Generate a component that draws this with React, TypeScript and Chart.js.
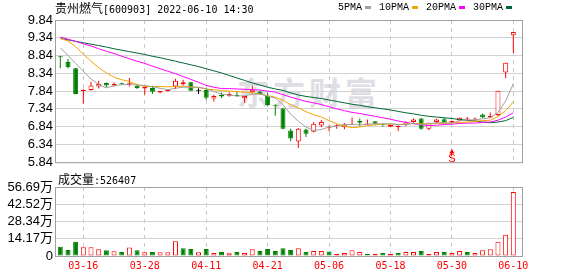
import React, { useEffect, useRef } from 'react';
import { Chart, registerables } from 'chart.js';

Chart.register(...registerables);

// ---------- data ----------
const dates = [
  '03-11', '03-14', '03-15', '03-16', '03-17', '03-18', '03-21', '03-22', '03-23', '03-24',
  '03-25', '03-28', '03-29', '03-30', '03-31', '04-01', '04-06', '04-07', '04-08', '04-11',
  '04-12', '04-13', '04-14', '04-15', '04-18', '04-19', '04-20', '04-21', '04-22', '04-25',
  '04-26', '04-27', '04-28', '04-29', '05-05', '05-06', '05-09', '05-10', '05-11', '05-12',
  '05-13', '05-16', '05-17', '05-18', '05-19', '05-20', '05-23', '05-24', '05-25', '05-26',
  '05-27', '05-30', '05-31', '06-01', '06-02', '06-06', '06-07', '06-08', '06-09', '06-10',
];

const opens = [
  8.80, 8.66, 8.48, 7.84, 7.87, 7.97, 8.07, 8.00, 8.06, 8.01,
  7.99, 7.91, 7.93, 7.80, 7.84, 7.97, 8.03, 8.09, 7.85, 7.87,
  7.63, 7.74, 7.71, 7.73, 7.64, 7.81, 7.83, 7.70, 7.44, 7.35,
  6.73, 6.42, 6.76, 6.70, 6.87, 6.81, 6.85, 6.82, 6.89, 7.00,
  6.90, 6.99, 6.92, 6.84, 6.82, 6.88, 6.97, 7.07, 6.78, 6.97,
  7.05, 6.95, 7.01, 7.04, 7.04, 7.18, 7.10, 7.17, 8.36, 9.41,
];
const highs = [
  8.83, 8.74, 8.49, 7.90, 8.10, 8.13, 8.08, 8.08, 8.08, 8.21,
  8.05, 7.96, 7.99, 7.84, 7.88, 8.19, 8.16, 8.10, 7.92, 7.93,
  7.74, 7.80, 7.81, 7.83, 7.70, 8.00, 7.86, 7.80, 7.46, 7.37,
  6.78, 6.80, 6.78, 6.97, 7.03, 6.87, 6.91, 6.94, 7.10, 7.07,
  7.04, 6.99, 6.93, 6.89, 6.88, 6.99, 7.07, 7.09, 6.95, 7.06,
  7.08, 7.01, 7.10, 7.11, 7.10, 7.21, 7.24, 7.85, 8.64, 9.50,
];
const lows = [
  8.48, 8.48, 7.75, 7.49, 7.85, 7.91, 7.95, 7.97, 8.02, 7.97,
  7.90, 7.74, 7.76, 7.78, 7.83, 7.90, 8.00, 7.84, 7.76, 7.60,
  7.55, 7.64, 7.68, 7.68, 7.51, 7.78, 7.74, 7.41, 7.15, 6.77,
  6.43, 6.24, 6.55, 6.68, 6.82, 6.71, 6.78, 6.77, 6.89, 6.86,
  6.89, 6.89, 6.84, 6.83, 6.72, 6.86, 6.93, 6.75, 6.74, 6.94,
  6.94, 6.93, 6.99, 7.00, 7.00, 7.09, 7.08, 7.14, 8.20, 8.91,
];
const closes = [
  8.79, 8.51, 7.76, 7.86, 8.00, 8.04, 8.00, 8.04, 8.03, 8.06,
  7.93, 7.96, 7.82, 7.84, 7.86, 8.13, 8.09, 7.85, 7.85, 7.65,
  7.70, 7.69, 7.76, 7.70, 7.70, 7.88, 7.76, 7.45, 7.43, 6.78,
  6.51, 6.78, 6.64, 6.92, 6.97, 6.84, 6.86, 6.90, 6.92, 6.95,
  6.92, 6.92, 6.89, 6.89, 6.86, 6.96, 7.04, 6.78, 6.95, 7.04,
  6.95, 7.00, 7.09, 7.05, 7.05, 7.10, 7.14, 7.85, 8.64, 9.50,
];
const prevClose = 8.86;

const ma5 = [
  9.06, 8.84, 8.62, 8.40, 8.18, 8.03, 7.93, 7.99, 8.02, 8.03,
  8.01, 8.00, 7.96, 7.92, 7.88, 7.92, 7.95, 7.95, 7.95, 7.91,
  7.83, 7.75, 7.73, 7.70, 7.71, 7.75, 7.76, 7.70, 7.64, 7.46,
  7.19, 6.99, 6.83, 6.73, 6.76, 6.83, 6.85, 6.90, 6.90, 6.89,
  6.91, 6.92, 6.92, 6.92, 6.90, 6.90, 6.93, 6.90, 6.92, 6.95,
  6.95, 6.94, 7.01, 7.03, 7.03, 7.06, 7.09, 7.24, 7.56, 8.05,
];
const ma10 = [
  9.32, 9.25, 9.09, 8.88, 8.68, 8.50, 8.35, 8.23, 8.16, 8.11,
  8.02, 7.97, 7.97, 7.97, 7.96, 7.97, 7.98, 7.96, 7.94, 7.90,
  7.88, 7.85, 7.84, 7.83, 7.81, 7.79, 7.76, 7.71, 7.67, 7.58,
  7.46, 7.37, 7.26, 7.18, 7.11, 7.01, 6.92, 6.86, 6.81, 6.83,
  6.87, 6.89, 6.91, 6.91, 6.90, 6.91, 6.93, 6.92, 6.92, 6.93,
  6.93, 6.94, 6.96, 6.97, 6.99, 7.01, 7.02, 7.12, 7.29, 7.54,
];
const ma20 = [
  9.36, 9.30, 9.24, 9.17, 9.11, 9.03, 8.96, 8.90, 8.82, 8.75,
  8.68, 8.62, 8.54, 8.47, 8.40, 8.33, 8.25, 8.17, 8.09, 8.00,
  7.95, 7.91, 7.91, 7.90, 7.89, 7.88, 7.87, 7.84, 7.81, 7.74,
  7.67, 7.61, 7.55, 7.51, 7.46, 7.40, 7.34, 7.29, 7.24, 7.21,
  7.17, 7.13, 7.09, 7.05, 7.00, 6.96, 6.92, 6.89, 6.87, 6.88,
  6.90, 6.91, 6.93, 6.94, 6.94, 6.96, 6.97, 7.02, 7.11, 7.23,
];
const ma30 = [
  9.32, 9.28, 9.24, 9.20, 9.16, 9.12, 9.08, 9.03, 8.99, 8.95,
  8.91, 8.87, 8.82, 8.78, 8.73, 8.68, 8.63, 8.58, 8.53, 8.47,
  8.41, 8.35, 8.28, 8.21, 8.14, 8.07, 8.01, 7.95, 7.90, 7.86,
  7.79, 7.73, 7.69, 7.66, 7.63, 7.59, 7.55, 7.51, 7.47, 7.44,
  7.40, 7.37, 7.34, 7.31, 7.27, 7.23, 7.20, 7.16, 7.13, 7.11,
  7.09, 7.07, 7.04, 7.02, 7.00, 6.97, 6.95, 6.97, 7.01, 7.10,
];

const volumes = [
  75000, 50000, 117000, 72000, 72000, 56000, 47000, 39000, 33000, 70000,
  47000, 31000, 33000, 31000, 31000, 122000, 64000, 58000, 31000, 58000,
  25000, 33000, 22000, 33000, 25000, 56000, 42000, 58000, 42000, 64000,
  50000, 64000, 33000, 42000, 42000, 36000, 17000, 25000, 47000, 33000,
  17000, 17000, 25000, 17000, 25000, 33000, 33000, 42000, 17000, 33000,
  33000, 25000, 42000, 33000, 25000, 47000, 56000, 117000, 175000, 526407,
];

const priceTicks = [5.84, 6.34, 6.84, 7.34, 7.84, 8.34, 8.84, 9.34, 9.84];
const volumeTicks = [0, 141725, 283450, 425175, 566900];
const volumeTickLabels = ['0', '14.17万', '28.34万', '42.52万', '56.69万'];
const dateTickLabels = ['03-16', '03-28', '04-11', '04-21', '05-06', '05-18', '05-30', '06-10'];
const maNames = ['5PMA', '10PMA', '20PMA', '30PMA'];
const exRightsDate = '05-30';
const exRightsMarkPrice = 6.13;
const exRightsText = 'S';
const stockName = '贵州燃气';
const stockCode = '[600903]';
const quoteTime = '2022-06-10 14:30';
const volumeTitle = '成交量';
const watermarkText = '东方财富';

// ---------- style ----------
const UP = '#ff0000';
const DOWN = '#008000';
const FLAT = '#000000';
const maColors = ['#a0a0a0', '#f5a300', '#ff00ff', '#006633'];
const GRID = '#d2d2d2';
const VGRID = '#c8c8c8';
const FRAME = '#a0a0a0';
const FONT = '"Liberation Sans", "Noto Sans CJK SC", sans-serif';
const MONO = '"DejaVu Sans Mono", "Noto Sans CJK SC", monospace';
const CJK = '"Noto Sans CJK SC", sans-serif';
const X_MIN = -0.69;
const X_MAX = 60.13;

const prevOf = (i: number) => (i === 0 ? prevClose : closes[i - 1]);
const candleColor = (i: number) => {
  const o = opens[i];
  const c = closes[i];
  if (c > o) return UP;
  if (c < o) return DOWN;
  const p = prevOf(i);
  return c > p ? UP : c < p ? DOWN : FLAT;
};
const volColor = (i: number) => (closes[i] >= prevOf(i) ? UP : DOWN);
const tickIdx = dateTickLabels.map((l) => dates.indexOf(l));

const framePlugin = {
  id: 'frame',
  afterDraw(chart: any) {
    const { ctx, chartArea: a } = chart;
    ctx.save();
    ctx.strokeStyle = FRAME;
    ctx.lineWidth = 1;
    ctx.strokeRect(a.left + 0.5, a.top + 0.5, a.right - a.left, a.bottom - a.top);
    ctx.restore();
  },
};

const exRightsPlugin = {
  id: 'exRightsLabel',
  afterDatasetsDraw(chart: any) {
    const di = chart.data.datasets.findIndex((d: any) => d.label === 'exRights');
    if (di < 0) return;
    const pt = chart.getDatasetMeta(di).data[0];
    if (!pt) return;
    const { ctx } = chart;
    ctx.save();
    ctx.fillStyle = UP;
    ctx.font = '11px ' + FONT;
    ctx.textAlign = 'center';
    ctx.textBaseline = 'top';
    ctx.fillText(exRightsText, pt.x, pt.y + 2);
    ctx.fillRect(Math.floor(pt.x), pt.y, 1, 4);
    ctx.restore();
  },
};

function xAxis(showLabels: boolean): any {
  return {
    type: 'linear',
    min: X_MIN,
    max: X_MAX,
    offset: false,
    afterBuildTicks: (s: any) => {
      s.ticks = tickIdx.map((v) => ({ value: v }));
    },
    afterFit: (s: any) => {
      s.height = showLabels ? 20 : 0;
    },
    grid: { display: true, color: VGRID, lineWidth: 1, drawTicks: false, offset: false },
    border: { display: false, dash: [4, 4] },
    ticks: {
      display: showLabels,
      autoSkip: false,
      maxRotation: 0,
      minRotation: 0,
      padding: 4,
      color: UP,
      font: { family: MONO, size: 10 },
      callback: (v: any) => dates[v] ?? '',
    },
  };
}

function yAxis(min: number, max: number, values: number[], fmt: (v: number) => string): any {
  return {
    type: 'linear',
    position: 'left',
    min,
    max,
    afterBuildTicks: (s: any) => {
      s.ticks = values.map((v) => ({ value: v }));
    },
    afterFit: (s: any) => {
      s.width = 55;
    },
    grid: { color: GRID, drawTicks: false },
    border: { display: false },
    ticks: {
      autoSkip: false,
      padding: 2,
      color: '#000000',
      font: { family: FONT, size: 13 },
      callback: (v: any) => fmt(Number(v)),
    },
  };
}

export default function App() {
  const priceRef = useRef<HTMLCanvasElement | null>(null);
  const volRef = useRef<HTMLCanvasElement | null>(null);

  useEffect(() => {
    const idx = dates.map((_, i) => i);
    const maSeries = [ma5, ma10, ma20, ma30];

    const priceChart = new Chart(priceRef.current as HTMLCanvasElement, {
      type: 'bar',
      data: {
        datasets: [
          ...maSeries.map((s, k) => ({
            type: 'line',
            label: maNames[k],
            data: s.map((v, i) => ({ x: i, y: v })),
            borderColor: maColors[k],
            borderWidth: 1,
            pointRadius: 0,
            tension: 0,
            fill: false,
            order: 0,
          })),
          {
            type: 'line',
            label: 'exRights',
            data: [{ x: dates.indexOf(exRightsDate), y: exRightsMarkPrice }],
            showLine: false,
            pointStyle: 'triangle',
            pointRadius: 3,
            backgroundColor: UP,
            borderColor: UP,
            borderWidth: 0,
            order: 0,
          },
          {
            type: 'bar',
            label: 'body',
            data: idx.map((i) => ({ x: i, y: [opens[i], closes[i]] })),
            backgroundColor: idx.map((i) => (closes[i] > opens[i] ? '#ffffff' : candleColor(i))),
            borderColor: idx.map((i) => candleColor(i)),
            borderWidth: 1,
            borderSkipped: false,
            barThickness: 5,
            grouped: false,
            minBarLength: 1,
            inflateAmount: 0,
            order: 1,
          },
          {
            type: 'bar',
            label: 'wick',
            data: idx.map((i) => ({ x: i, y: [lows[i], highs[i]] })),
            backgroundColor: idx.map((i) => candleColor(i)),
            borderWidth: 0,
            barThickness: 1,
            grouped: false,
            inflateAmount: 0,
            order: 2,
          },
        ] as any,
      },
      options: {
        animation: false,
        responsive: false,
        devicePixelRatio: 1,
        events: [],
        layout: { padding: { left: 0, top: 20, right: 56, bottom: 7 } },
        plugins: { legend: { display: false }, tooltip: { enabled: false }, title: { display: false } },
        scales: {
          x: xAxis(false),
          y: yAxis(priceTicks[0], priceTicks[priceTicks.length - 1], priceTicks, (v) => v.toFixed(2)),
        },
      } as any,
      plugins: [framePlugin, exRightsPlugin],
    });

    const volChart = new Chart(volRef.current as HTMLCanvasElement, {
      type: 'bar',
      data: {
        datasets: [
          {
            label: volumeTitle,
            data: idx.map((i) => ({ x: i, y: volumes[i] })),
            backgroundColor: idx.map((i) => (volColor(i) === UP ? '#ffffff' : DOWN)),
            borderColor: idx.map((i) => volColor(i)),
            borderWidth: 1,
            borderSkipped: false,
            barThickness: 5,
            grouped: false,
            inflateAmount: 0,
          },
        ] as any,
      },
      options: {
        animation: false,
        responsive: false,
        devicePixelRatio: 1,
        events: [],
        layout: { padding: { left: 0, top: 15, right: 56, bottom: 0 } },
        plugins: { legend: { display: false }, tooltip: { enabled: false } },
        scales: {
          x: xAxis(true),
          y: yAxis(0, volumeTicks[volumeTicks.length - 1], volumeTicks, (v) => volumeTickLabels[volumeTicks.indexOf(v)] ?? ''),
        },
      } as any,
      plugins: [framePlugin],
    });

    return () => {
      priceChart.destroy();
      volChart.destroy();
    };
  }, []);

  const legendItem = (name: string, color: string) => (
    <div key={name} style={{ display: 'flex', alignItems: 'center', marginRight: 8 }}>
      <span>{name}</span>
      <span style={{ display: 'inline-block', width: 6, height: 3, background: color, marginLeft: 3 }} />
    </div>
  );

  return (
    <div
      style={{
        position: 'absolute',
        left: 0,
        top: 0,
        width: 578,
        height: 276,
        background: '#ffffff',
        overflow: 'hidden',
      }}
    >
      <div
        style={{
          position: 'absolute',
          left: 237,
          top: 70,
          fontFamily: CJK,
          fontWeight: 700,
          fontSize: 32,
          letterSpacing: 4,
          lineHeight: '42px',
          color: '#dedee4',
          whiteSpace: 'nowrap',
        }}
      >
        {watermarkText}
      </div>
      <canvas ref={priceRef} width={578} height={172} style={{ position: 'absolute', left: 0, top: 0, width: 578, height: 172 }} />
      <canvas ref={volRef} width={578} height={104} style={{ position: 'absolute', left: 0, top: 172, width: 578, height: 104 }} />
      <div
        style={{
          position: 'absolute',
          left: 55,
          top: 0,
          height: 15,
          lineHeight: '15px',
          whiteSpace: 'nowrap',
          color: '#000',
        }}
      >
        <span style={{ fontFamily: CJK, fontSize: 12 }}>{stockName}</span>
        <span style={{ fontFamily: MONO, fontSize: 10 }}>{stockCode + ' ' + quoteTime}</span>
      </div>
      <div
        style={{
          position: 'absolute',
          left: 338,
          top: 0,
          height: 15,
          lineHeight: '15px',
          display: 'flex',
          alignItems: 'center',
          fontFamily: '"Liberation Mono", monospace',
          fontSize: 10,
          color: '#000',
          whiteSpace: 'nowrap',
        }}
      >
        {maNames.map((n, k) => legendItem(n, maColors[k]))}
      </div>
      <div
        style={{
          position: 'absolute',
          left: 58,
          top: 171,
          height: 15,
          lineHeight: '15px',
          whiteSpace: 'nowrap',
          color: '#000',
        }}
      >
        <span style={{ fontFamily: CJK, fontSize: 12 }}>{volumeTitle}</span>
        <span style={{ fontFamily: MONO, fontSize: 10 }}>{':' + volumes[volumes.length - 1]}</span>
      </div>
    </div>
  );
}
